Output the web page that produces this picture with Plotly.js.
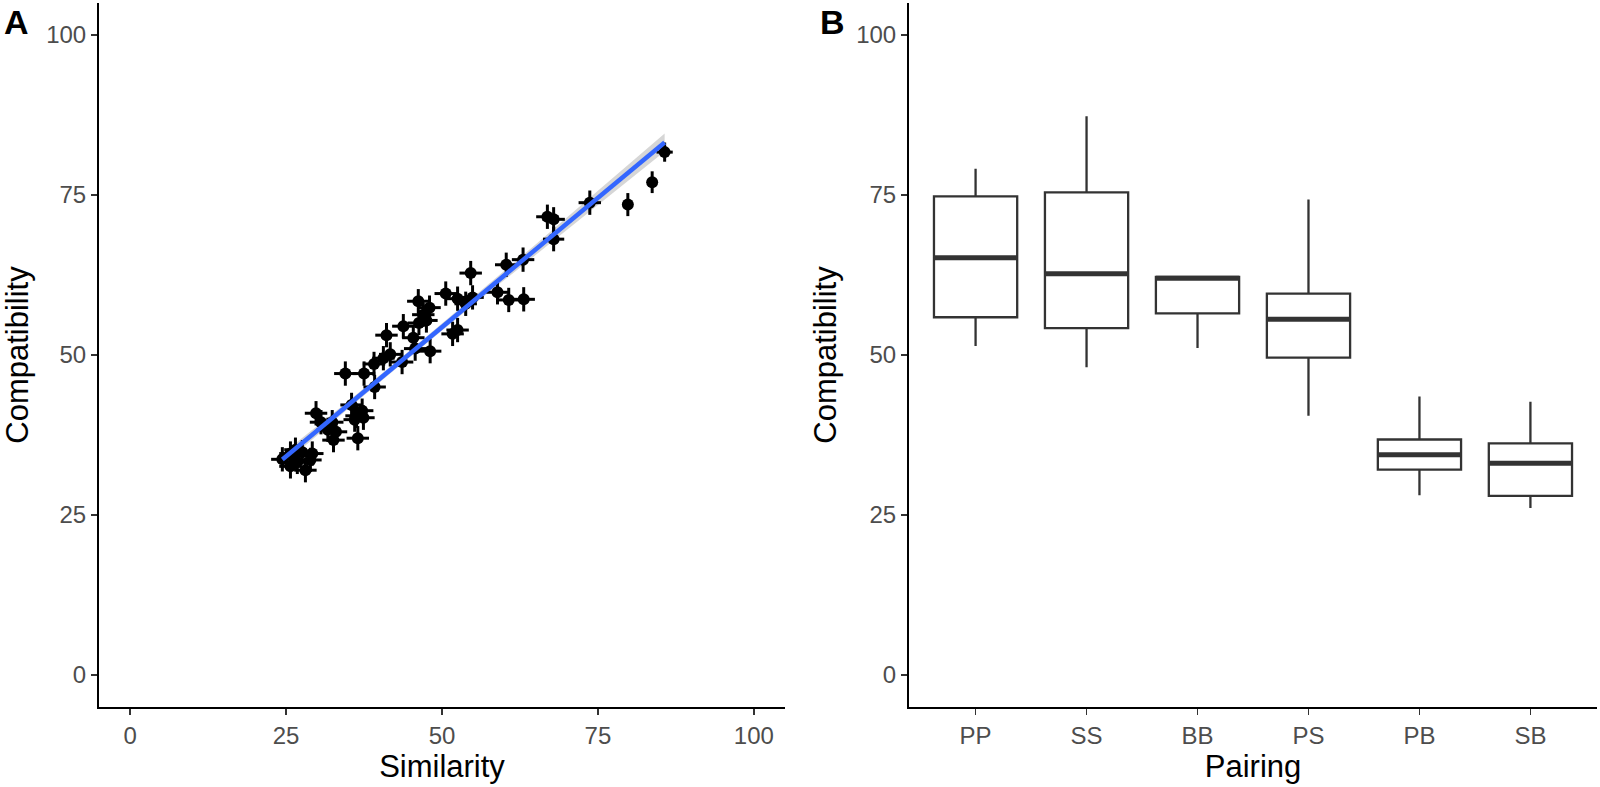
<!DOCTYPE html>
<html>
<head>
<meta charset="utf-8">
<script src="https://cdn.plot.ly/plotly-3.0.1.min.js"></script>
<style>
html,body{margin:0;padding:0;background:#fff;}
#chart{width:1600px;height:787px;}
</style>
</head>
<body>
<div id="chart"></div>
<script>
// ---- Panel A: similarity vs compatibility (means with error bars) ----
const similarity = [85.7, 83.7, 79.8, 73.7, 66.9, 67.9, 67.9, 63.0, 60.3, 54.6,
  58.9, 60.7, 63.1, 50.6, 52.5, 54.9, 53.8, 46.2, 48.0, 47.0,
  47.5, 46.3, 43.8, 45.4, 52.5, 51.7, 48.1, 45.7, 41.1, 41.7,
  40.6, 43.6, 39.1, 37.5, 34.5, 39.2, 35.5, 37.2, 36.3, 36.0,
  37.4, 36.5, 29.8, 30.6, 32.4, 31.7, 33.0, 32.6, 24.4, 25.7,
  26.5, 27.6, 29.2, 26.8, 25.7, 28.1, 28.9];
const compatibility = [81.7, 77.0, 73.5, 73.8, 71.6, 71.2, 68.1, 64.9, 64.1, 62.8,
  59.8, 58.6, 58.7, 59.6, 58.8, 59.0, 58.0, 58.4, 57.4, 56.3,
  55.4, 55.0, 54.5, 52.7, 53.9, 53.3, 50.6, 51.0, 53.1, 50.1,
  49.5, 48.9, 48.6, 47.1, 47.1, 45.0, 42.2, 41.3, 40.5, 39.9,
  40.2, 37.0, 40.9, 39.5, 39.5, 38.3, 38.0, 36.7, 33.7, 34.6,
  35.2, 34.8, 34.6, 33.3, 32.6, 32.0, 33.6];
const similarityErr = [1.3, 0.5, 0.5, 1.8, 1.8, 1.8, 1.7, 1.8, 1.8, 1.8,
  1.8, 1.8, 1.8, 1.8, 1.8, 1.8, 1.8, 1.8, 1.8, 1.8,
  1.8, 1.8, 1.8, 1.8, 1.8, 1.8, 1.8, 1.8, 1.8, 1.8,
  1.8, 1.8, 1.8, 1.8, 1.8, 1.8, 1.8, 1.8, 1.8, 1.8,
  1.8, 1.8, 1.8, 1.8, 1.8, 1.8, 1.8, 1.8, 1.8, 1.8,
  1.8, 1.8, 1.8, 1.8, 1.8, 1.8, 1.8];
const compatibilityErr = [1.5, 1.7, 1.8, 1.9, 1.9, 1.9, 1.9, 1.9, 1.9, 1.9,
  1.9, 1.9, 1.9, 1.9, 1.9, 1.9, 1.9, 1.9, 1.9, 1.9,
  1.9, 1.9, 1.9, 1.9, 1.9, 1.9, 1.9, 1.9, 1.9, 1.9,
  1.9, 1.9, 1.9, 1.9, 1.9, 1.9, 1.9, 1.9, 1.9, 1.9,
  1.9, 1.9, 1.9, 1.9, 1.9, 1.9, 1.9, 1.9, 1.9, 1.9,
  1.9, 1.9, 1.9, 1.9, 1.9, 1.9, 1.9];

// confidence band half-width of the fitted line
const bandX = [24.4, 35, 45, 55, 65, 75, 85.7];
const bandHalf = [0.9, 0.6, 0.5, 0.6, 0.8, 1.1, 1.4];

// ---- Panel B: compatibility by pairing (box statistics) ----
const pairings = ['PP', 'SS', 'BB', 'PS', 'PB', 'SB'];
const lowerWhisker = [51.4, 48.1, 51.1, 40.5, 28.1, 26.1];
const q1 = [55.9, 54.2, 56.5, 49.6, 32.1, 28.0];
const median = [65.2, 62.7, 62.0, 55.6, 34.4, 33.1];
const q3 = [74.8, 75.4, 62.2, 59.6, 36.8, 36.2];
const upperWhisker = [79.1, 87.3, 62.2, 74.3, 43.5, 42.7];

const axisTicks = [0, 25, 50, 75, 100];

// ---- linear fit (geom_smooth method = lm) ----
const n = similarity.length;
const mx = similarity.reduce((a, b) => a + b, 0) / n;
const my = compatibility.reduce((a, b) => a + b, 0) / n;
let sxx = 0, sxy = 0;
for (let i = 0; i < n; i++) { sxx += (similarity[i] - mx) ** 2; sxy += (similarity[i] - mx) * (compatibility[i] - my); }
const slope = sxy / sxx, icpt = my - slope * mx;
const fitY = bandX.map(x => icpt + slope * x);
const up = fitY.map((y, i) => y + bandHalf[i]);
const lo = fitY.map((y, i) => y - bandHalf[i]);

const FONT = 'Liberation Sans, Arial, sans-serif';
const tickFont = {family: FONT, size: 24, color: '#4D4D4D'};
const titleFont = {family: FONT, size: 31, color: '#000'};

const boxHalf = 0.375;
const medX = [], medY = [];
pairings.forEach((p, i) => { medX.push(i + 1 - boxHalf, i + 1 + boxHalf, null); medY.push(median[i], median[i], null); });

const traces = [
  {x: bandX.concat(bandX.slice().reverse()), y: up.concat(lo.slice().reverse()), type: 'scatter', mode: 'lines',
   fill: 'toself', fillcolor: 'rgba(153,153,153,0.4)', line: {width: 0}, hoverinfo: 'skip', xaxis: 'x', yaxis: 'y'},
  {x: similarity, y: compatibility, type: 'scatter', mode: 'markers',
   marker: {color: '#000', size: 12},
   error_x: {type: 'data', array: similarityErr, color: '#000', thickness: 3, width: 0},
   error_y: {type: 'data', array: compatibilityErr, color: '#000', thickness: 3, width: 0},
   xaxis: 'x', yaxis: 'y'},
  {x: bandX, y: fitY, type: 'scatter', mode: 'lines', line: {color: '#3366FF', width: 4.5}, xaxis: 'x', yaxis: 'y'},
  {type: 'box', x: pairings.map((p, i) => i + 1), q1: q1, median: median, q3: q3,
   lowerfence: lowerWhisker, upperfence: upperWhisker, width: 2 * boxHalf,
   fillcolor: '#fff', line: {color: '#333333', width: 2.3}, whiskerwidth: 0,
   boxpoints: false, xaxis: 'x2', yaxis: 'y2'},
  {x: medX, y: medY, type: 'scatter', mode: 'lines', line: {color: '#333333', width: 5},
   connectgaps: false, xaxis: 'x2', yaxis: 'y2'}
];

const baseAxis = {
  showgrid: false, zeroline: false, showline: true, linecolor: '#000', linewidth: 2,
  ticks: 'outside', ticklen: 6, tickwidth: 1.6, tickcolor: '#333', tickfont: tickFont
};

const layout = {
  width: 1600, height: 787, showlegend: false,
  paper_bgcolor: '#fff', plot_bgcolor: '#fff',
  margin: {l: 0, r: 0, t: 3, b: 80},
  xaxis: Object.assign({}, baseAxis, {domain: [99 / 1600, 785 / 1600], range: [-5, 105],
    tickvals: axisTicks, title: {text: 'Similarity', font: titleFont, standoff: 6}, anchor: 'y'}),
  yaxis: Object.assign({}, baseAxis, {range: [-5, 105], tickvals: axisTicks,
    title: {text: 'Compatibility', font: titleFont, standoff: 10}, anchor: 'x'}),
  xaxis2: Object.assign({}, baseAxis, {domain: [909 / 1600, 1597 / 1600], range: [0.4, 6.6],
    tickvals: pairings.map((p, i) => i + 1), ticktext: pairings,
    title: {text: 'Pairing', font: titleFont, standoff: 6}, anchor: 'y2'}),
  yaxis2: Object.assign({}, baseAxis, {range: [-5, 105], tickvals: axisTicks,
    title: {text: 'Compatibility', font: titleFont, standoff: 10}, anchor: 'x2'}),
  annotations: [
    {text: '<b>A</b>', xref: 'paper', yref: 'paper', x: 2 / 1600, y: 1, xanchor: 'left', yanchor: 'top',
     yshift: 2, showarrow: false, font: {family: FONT, size: 34, color: '#000'}},
    {text: '<b>B</b>', xref: 'paper', yref: 'paper', x: 818 / 1600, y: 1, xanchor: 'left', yanchor: 'top',
     yshift: 2, showarrow: false, font: {family: FONT, size: 34, color: '#000'}}
  ]
};

Plotly.newPlot('chart', traces, layout, {displayModeBar: false, staticPlot: true});
</script>
</body>
</html>
